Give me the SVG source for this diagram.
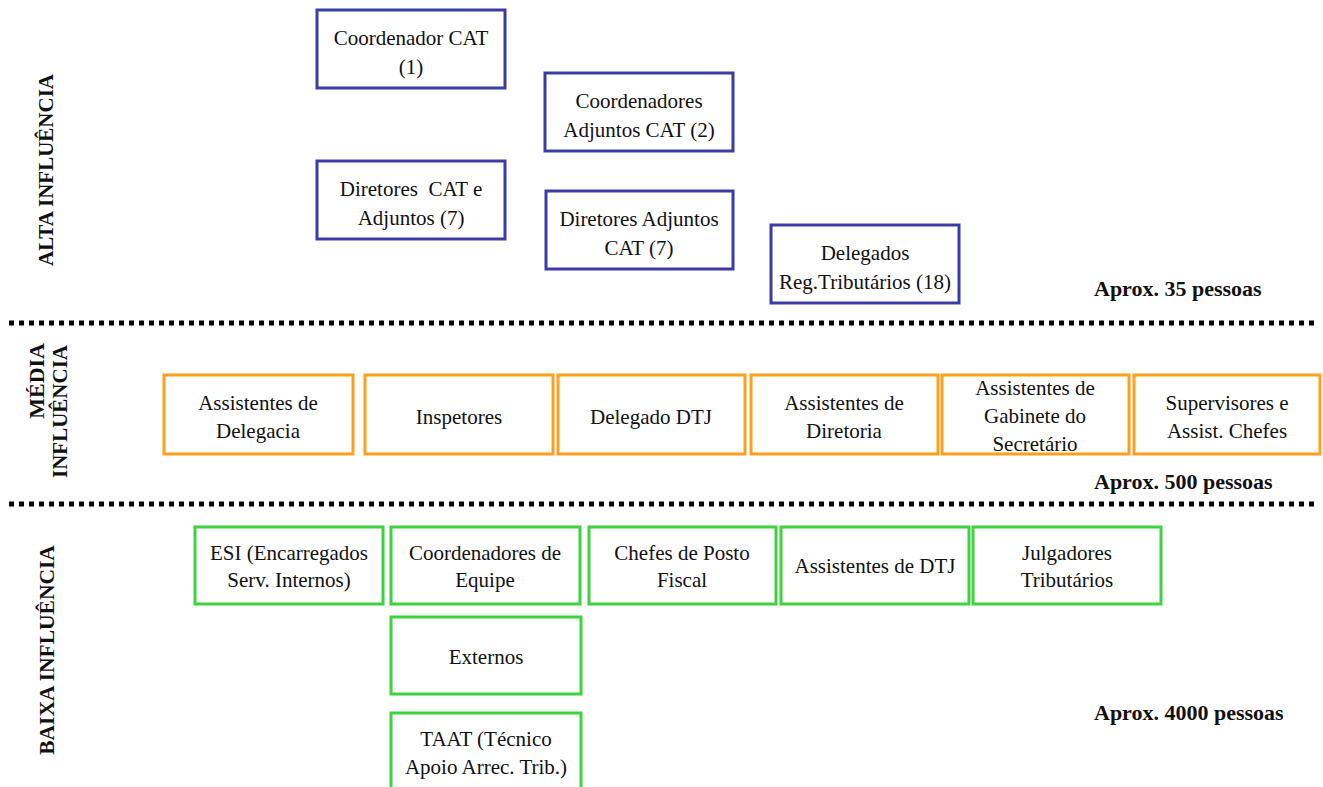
<svg xmlns="http://www.w3.org/2000/svg" width="1323" height="787" viewBox="0 0 1323 787">
<style>
.bg{fill:#ffffff}
.blue{fill:#ffffff;stroke:#3c3ca6;stroke-width:3}
.orange{fill:#ffffff;stroke:#ff9f1c;stroke-width:3}
.green{fill:#ffffff;stroke:#3fd23f;stroke-width:3}
.nt{fill:#111111;text-anchor:middle}
.lbl{font-weight:bold;fill:#111111}
.aprox{font-weight:bold;font-size:22px;fill:#111111}
.dots{stroke:#000000;stroke-width:5;stroke-dasharray:5 5;fill:none}
</style>
<rect class="bg" x="0" y="0" width="1323" height="787"/>

<g id="separators">
<line class="dots" x1="9" y1="323" x2="1318" y2="323"/>
<line class="dots" x1="9" y1="504" x2="1318" y2="504"/>
</g>

<g id="labels" font-family="Liberation Serif, Times New Roman, serif">
<text class="lbl" font-size="21" text-anchor="middle" transform="translate(53,170) rotate(-90)">ALTA INFLUÊNCIA</text>
<text class="lbl" font-size="22" text-anchor="end" transform="translate(44,343) rotate(-90)">MÉDIA</text>
<text class="lbl" font-size="21" text-anchor="end" transform="translate(67,345) rotate(-90)">INFLUÊNCIA</text>
<text class="lbl" font-size="21.5" text-anchor="middle" transform="translate(54,650) rotate(-90)">BAIXA INFLUÊNCIA</text>
<text class="aprox" x="1094" y="296">Aprox. 35 pessoas</text>
<text class="aprox" x="1094" y="489">Aprox. 500 pessoas</text>
<text class="aprox" x="1094" y="720">Aprox. 4000 pessoas</text>
</g>

<g id="connectors"></g>

<g id="nodes">
<g id="n-coordenador-cat">
<rect class="blue" x="317" y="10" width="188" height="78"/>
<text class="nt" font-family="Liberation Serif" font-size="21" x="411" y="45">Coordenador CAT</text>
<text class="nt" font-family="Liberation Serif" font-size="21" x="411" y="74">(1)</text>
</g>
<g id="n-coordenadores-adjuntos">
<rect class="blue" x="545" y="73" width="188" height="78"/>
<text class="nt" font-family="Liberation Serif" font-size="21" x="639" y="108">Coordenadores</text>
<text class="nt" font-family="Liberation Serif" font-size="21" x="639" y="137">Adjuntos CAT (2)</text>
</g>
<g id="n-diretores-cat">
<rect class="blue" x="317" y="161" width="188" height="78"/>
<text class="nt" font-family="Liberation Serif" font-size="21" x="411" y="196" xml:space="preserve">Diretores  CAT e</text>
<text class="nt" font-family="Liberation Serif" font-size="21" x="411" y="225">Adjuntos (7)</text>
</g>
<g id="n-diretores-adjuntos">
<rect class="blue" x="546" y="191" width="187" height="78"/>
<text class="nt" font-family="Liberation Serif" font-size="21" x="639" y="226">Diretores Adjuntos</text>
<text class="nt" font-family="Liberation Serif" font-size="21" x="639" y="255">CAT (7)</text>
</g>
<g id="n-delegados">
<rect class="blue" x="771" y="225" width="188" height="78"/>
<text class="nt" font-family="Liberation Serif" font-size="21" x="865" y="260">Delegados</text>
<text class="nt" font-family="Liberation Serif" font-size="21" x="865" y="289">Reg.Tributários (18)</text>
</g>

<g id="n-assist-delegacia">
<rect class="orange" x="164" y="375" width="189" height="79"/>
<text class="nt" font-family="Liberation Serif" font-size="21" x="258" y="410">Assistentes de</text>
<text class="nt" font-family="Liberation Serif" font-size="21" x="258" y="438">Delegacia</text>
</g>
<g id="n-inspetores">
<rect class="orange" x="365" y="375" width="188" height="79"/>
<text class="nt" font-family="Liberation Serif" font-size="21" x="459" y="424">Inspetores</text>
</g>
<g id="n-delegado-dtj">
<rect class="orange" x="558" y="375" width="187" height="79"/>
<text class="nt" font-family="Liberation Serif" font-size="21" x="651" y="424">Delegado DTJ</text>
</g>
<g id="n-assist-diretoria">
<rect class="orange" x="751" y="375" width="187" height="79"/>
<text class="nt" font-family="Liberation Serif" font-size="21" x="844" y="410">Assistentes de</text>
<text class="nt" font-family="Liberation Serif" font-size="21" x="844" y="438">Diretoria</text>
</g>
<g id="n-assist-gabinete">
<rect class="orange" x="942" y="375" width="187" height="79"/>
<text class="nt" font-family="Liberation Serif" font-size="21" x="1035" y="395">Assistentes de</text>
<text class="nt" font-family="Liberation Serif" font-size="21" x="1035" y="423">Gabinete do</text>
<text class="nt" font-family="Liberation Serif" font-size="21" x="1035" y="451">Secretário</text>
</g>
<g id="n-supervisores">
<rect class="orange" x="1134" y="375" width="186" height="79"/>
<text class="nt" font-family="Liberation Serif" font-size="21" x="1227" y="410">Supervisores e</text>
<text class="nt" font-family="Liberation Serif" font-size="21" x="1227" y="438">Assist. Chefes</text>
</g>

<g id="n-esi">
<rect class="green" x="195" y="527" width="188" height="77"/>
<text class="nt" font-family="Liberation Serif" font-size="21" x="289" y="560">ESI (Encarregados</text>
<text class="nt" font-family="Liberation Serif" font-size="21" x="289" y="587">Serv. Internos)</text>
</g>
<g id="n-coord-equipe">
<rect class="green" x="391" y="527" width="189" height="77"/>
<text class="nt" font-family="Liberation Serif" font-size="21" x="485" y="560">Coordenadores de</text>
<text class="nt" font-family="Liberation Serif" font-size="21" x="485" y="587">Equipe</text>
</g>
<g id="n-chefes-posto">
<rect class="green" x="589" y="527" width="187" height="77"/>
<text class="nt" font-family="Liberation Serif" font-size="21" x="682" y="560">Chefes de Posto</text>
<text class="nt" font-family="Liberation Serif" font-size="21" x="682" y="587">Fiscal</text>
</g>
<g id="n-assist-dtj">
<rect class="green" x="781" y="527" width="188" height="77"/>
<text class="nt" font-family="Liberation Serif" font-size="21" x="875" y="573">Assistentes de DTJ</text>
</g>
<g id="n-julgadores">
<rect class="green" x="973" y="527" width="188" height="77"/>
<text class="nt" font-family="Liberation Serif" font-size="21" x="1067" y="560">Julgadores</text>
<text class="nt" font-family="Liberation Serif" font-size="21" x="1067" y="587">Tributários</text>
</g>
<g id="n-externos">
<rect class="green" x="391" y="617" width="190" height="77"/>
<text class="nt" font-family="Liberation Serif" font-size="21" x="486" y="664">Externos</text>
</g>
<g id="n-taat">
<rect class="green" x="391" y="713" width="190" height="82"/>
<text class="nt" font-family="Liberation Serif" font-size="21" x="486" y="746">TAAT (Técnico</text>
<text class="nt" font-family="Liberation Serif" font-size="21" x="486" y="774">Apoio Arrec. Trib.)</text>
</g>
</g>
</svg>
